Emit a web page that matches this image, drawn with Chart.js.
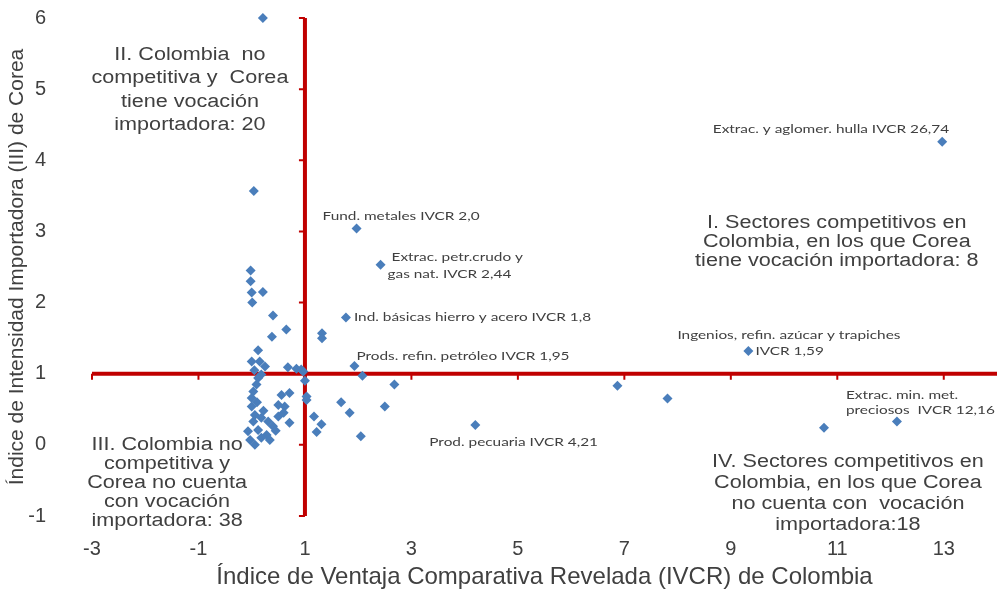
<!DOCTYPE html>
<html>
<head>
<meta charset="utf-8">
<script src="https://cdn.jsdelivr.net/npm/chart.js@4.4.1/dist/chart.umd.min.js"></script>
<style>
  html, body { margin: 0; padding: 0; background: #fff; }
</style>
</head>
<body>
<canvas id="chart" width="997" height="594"></canvas>
<script>
// IVCR de Colombia (x) e III de Corea (y), un punto por sector
const ivcr = [
  0.21, 0.04, 1.32, 1.32, 2.08, 2.68, 6.87, 7.81, 10.75,
  1.68, 1.84, 2.50, 2.05, 1.17, 1.31, 1.22, 1.03, 1.03, 1.00, 0.97, 0.93,
  -0.02, -0.02, 0.00, 0.21, 0.01, 0.40, 0.65, 0.38,
  0.12, 0.00, 0.15, 0.25, 0.68, 0.84, 0.18, 0.05,
  0.12, 0.09, 0.03, 0.56, 0.71, 0.00, 0.50, 0.62, 0.00,
  0.06, 0.18, 0.50, 0.71, 0.31, 0.03, 0.40, 0.12, 0.28,
  -0.03, 0.06, 0.18, -0.07, 0.34, 0.22, 0.10, 0.45, 0.60
];
const iii = [
  6.00, 3.57, 1.57, 1.50, 0.97, 0.85, 0.83, 0.65, 0.24,
  0.60, 0.45, 0.54, 0.12, 0.40, 0.29, 0.18, 0.63, 0.68, 0.90, 1.03, 1.06,
  2.45, 2.30, 2.14, 2.15, 2.00, 1.82, 1.62, 1.52,
  1.33, 1.17, 1.17, 1.10, 1.09, 1.07, 0.99, 1.05,
  0.94, 0.85, 0.75, 0.70, 0.73, 0.66, 0.56, 0.54, 0.54,
  0.42, 0.38, 0.40, 0.31, 0.33, 0.33, 0.26, 0.21, 0.14,
  0.07, 0.00, 0.10, 0.19, 0.07, 0.48, 0.60, 0.20, 0.45
];

// sectores con etiqueta
const namedIvcr = [12.97, 1.97, 2.42, 1.77, 1.93, 9.33, 4.20, 12.12];
const namedIii = [4.26, 3.04, 2.53, 1.79, 1.11, 1.32, 0.28, 0.33];
const namedText = [
  ['Extrac. y aglomer. hulla IVCR 26,74'],
  ['Fund. metales IVCR 2,0'],
  ['Extrac. petr.crudo y', 'gas nat. IVCR 2,44'],
  ['Ind. básicas hierro y acero IVCR 1,8'],
  ['Prods. refin. petróleo IVCR 1,95'],
  ['Ingenios, refin. azúcar y trapiches', 'IVCR 1,59'],
  ['Prod. pecuaria IVCR 4,21'],
  ['Extrac. min. met.', 'preciosos  IVCR 12,16']
];

const quadrantText = [
  ['II. Colombia  no', 'competitiva y  Corea', 'tiene vocación', 'importadora: 20'],
  ['III. Colombia no', 'competitiva y', 'Corea no cuenta', 'con vocación', 'importadora: 38'],
  ['I. Sectores competitivos en', 'Colombia, en los que Corea', 'tiene vocación importadora: 8'],
  ['IV. Sectores competitivos en', 'Colombia, en los que Corea', 'no cuenta con  vocación', 'importadora:18']
];

const xTicks = [-3, -1, 1, 3, 5, 7, 9, 11, 13];
const yTicks = [-1, 0, 1, 2, 3, 4, 5, 6];

// where things sit (pixel offsets from each labelled point, per line)
const namedLayout = [
  [{dx: 7, dy: -13, align: 'right'}],
  [{dx: -34, dy: -12, align: 'left'}],
  [{dx: 11, dy: -8, align: 'left'}, {dx: 7, dy: 9, align: 'left'}],
  [{dx: 8, dy: 0, align: 'left'}],
  [{dx: 2, dy: -10, align: 'left'}],
  [{dx: -71, dy: -16, align: 'left'}, {dx: 7, dy: 0, align: 'left'}],
  [{dx: -46, dy: 17, align: 'left'}],
  [{dx: -51, dy: -26, align: 'left'}, {dx: -51, dy: -11, align: 'left'}]
];
// quadrant notes anchored in data units: [x centre, y first line, line gap px]
const quadrantAt = [
  [-1.16, 5.48, 23.5],
  [-1.59, 0.00, 19],
  [10.99, 3.12, 19],
  [11.2, -0.24, 21]
];
const stretch = {named: 1.28, quadrant: 1.2};

const red = '#C00000';
const grey = '#404040';

function drawStretched(ctx, text, x, y, sx) {
  ctx.save();
  ctx.translate(x, y);
  ctx.scale(sx, 1);
  ctx.fillText(text, 0, 0);
  ctx.restore();
}

const crossLines = {
  id: 'crossLines',
  beforeDatasetsDraw(chart) {
    const {ctx, chartArea, scales: {x, y}} = chart;
    const cx = x.getPixelForValue(1);
    const cy = y.getPixelForValue(1);
    ctx.save();
    ctx.strokeStyle = red;
    ctx.lineWidth = 4;
    ctx.beginPath();
    ctx.moveTo(chartArea.left, cy);
    ctx.lineTo(chartArea.right, cy);
    ctx.moveTo(cx, chartArea.top);
    ctx.lineTo(cx, chartArea.bottom);
    ctx.stroke();
    ctx.lineWidth = 2;
    ctx.beginPath();
    xTicks.forEach(v => {
      const px = x.getPixelForValue(v);
      ctx.moveTo(px, cy);
      ctx.lineTo(px, cy + 6);
    });
    yTicks.forEach(v => {
      const py = y.getPixelForValue(v);
      ctx.moveTo(cx, py);
      ctx.lineTo(cx - 6, py);
    });
    ctx.stroke();
    ctx.restore();
  },
  afterDatasetsDraw(chart) {
    const {ctx, scales: {x, y}} = chart;
    ctx.save();
    ctx.fillStyle = grey;
    ctx.textBaseline = 'middle';
    ctx.font = '12px Lato, "Noto Sans", sans-serif';
    namedText.forEach((lines, i) => {
      const px = x.getPixelForValue(namedIvcr[i]);
      const py = y.getPixelForValue(namedIii[i]);
      lines.forEach((t, j) => {
        const l = namedLayout[i][j];
        ctx.textAlign = l.align;
        drawStretched(ctx, t, px + l.dx, py + l.dy, stretch.named);
      });
    });
    ctx.font = '18px "Liberation Sans", Arial, sans-serif';
    ctx.textAlign = 'center';
    quadrantText.forEach((lines, i) => {
      const [qx, qy, gap] = quadrantAt[i];
      const px = x.getPixelForValue(qx);
      const py = y.getPixelForValue(qy);
      lines.forEach((t, j) => drawStretched(ctx, t, px, py + j * gap, stretch.quadrant));
    });
    ctx.restore();
  }
};

const tickFont = {family: '"Liberation Sans", Arial, sans-serif', size: 20};

new Chart(document.getElementById('chart'), {
  type: 'scatter',
  data: {
    datasets: [{
      data: ivcr.map((v, i) => ({x: v, y: iii[i]}))
        .concat(namedIvcr.map((v, i) => ({x: v, y: namedIii[i]}))),
      pointStyle: 'rectRot',
      pointRadius: 5,
      pointHoverRadius: 5,
      backgroundColor: '#4A7EBB',
      borderWidth: 0,
      clip: false
    }]
  },
  options: {
    responsive: false,
    animation: false,
    devicePixelRatio: 1,
    layout: {autoPadding: false, padding: {top: 18, right: 0, left: 0, bottom: 0}},
    plugins: {legend: {display: false}, tooltip: {enabled: false}},
    scales: {
      x: {
        min: -3,
        max: 14,
        afterBuildTicks: s => { s.ticks = xTicks.map(v => ({value: v})); },
        afterFit: s => { s.height = 78; s.paddingLeft = 0; s.paddingRight = 0; },
        grid: {display: false},
        border: {display: false},
        ticks: {font: tickFont, color: grey, padding: 13, maxRotation: 0, autoSkip: false},
        title: {display: true, text: 'Índice de Ventaja Comparativa Revelada (IVCR) de Colombia',
          font: {family: '"Liberation Sans", Arial, sans-serif', size: 24}, color: grey,
          padding: {top: 0, bottom: 2}}
      },
      y: {
        min: -1,
        max: 6,
        afterBuildTicks: s => { s.ticks = yTicks.map(v => ({value: v})); },
        afterFit: s => { s.width = 92; s.paddingTop = 0; s.paddingBottom = 0; },
        grid: {display: false},
        border: {display: false},
        ticks: {font: tickFont, color: grey, padding: 38},
        title: {display: true, text: 'Índice de Intensidad Importadora (III) de Corea',
          font: {family: '"Liberation Sans", Arial, sans-serif', size: 21}, color: grey,
          padding: {top: 5, bottom: 0}}
      }
    }
  },
  plugins: [crossLines]
});
</script>
</body>
</html>
